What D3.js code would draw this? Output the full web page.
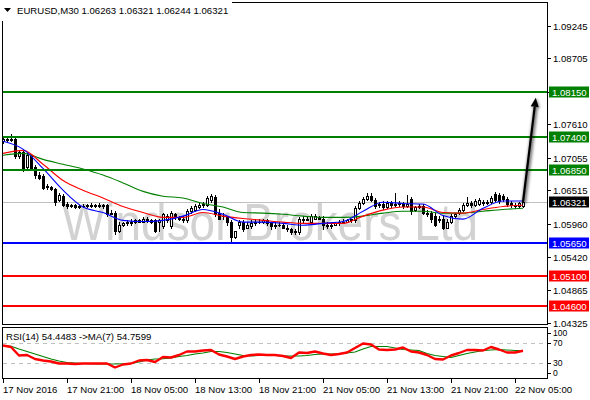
<!DOCTYPE html>
<html><head><meta charset="utf-8">
<script src="https://cdn.jsdelivr.net/npm/d3@7"></script>
<style>body{margin:0;background:#fff}svg{display:block}text{font-family:"Liberation Sans",Arial,sans-serif}</style>
</head><body><svg id="c" width="590" height="400"></svg>
<script>
// ---------- DATA ----------
const symbolTitle = "EURUSD,M30";
const lastOHLC = [1.06263, 1.06321, 1.06244, 1.06321];
const watermarkText = "Windsor Brokers Ltd";

const openP = [
1.0733,1.0737,1.0735,1.0737,1.0708,1.0715,1.0690,1.0710,1.0690,1.0677,
1.0675,1.0657,1.0657,1.0654,1.0635,1.0642,1.0629,1.0625,1.0627,1.0624,
1.0625,1.0625,1.0627,1.0625,1.0627,1.0625,1.0627,1.0614,1.0615,1.0585,
1.0595,1.0597,1.0599,1.0599,1.0602,1.0600,1.0604,1.0602,1.0602,1.0599,
1.0592,1.0602,1.0592,1.0612,1.0607,1.0604,1.0602,1.0617,1.0619,1.0624,
1.0627,1.0627,1.0635,1.0640,1.0615,1.0610,1.0607,1.0599,1.0575,1.0594,
1.0599,1.0590,1.0592,1.0597,1.0600,1.0599,1.0602,1.0597,1.0592,1.0595,
1.0594,1.0590,1.0587,1.0582,1.0582,1.0604,1.0604,1.0600,1.0605,1.0607,
1.0605,1.0595,1.0592,1.0595,1.0597,1.0599,1.0600,1.0602,1.0602,1.0622,
1.0630,1.0637,1.0642,1.0635,1.0627,1.0629,1.0624,1.0630,1.0627,1.0629,
1.0629,1.0625,1.0637,1.0619,1.0624,1.0625,1.0615,1.0614,1.0610,1.0602,
1.0605,1.0590,1.0599,1.0609,1.0614,1.0619,1.0627,1.0630,1.0627,1.0629,
1.0632,1.0630,1.0632,1.0645,1.0644,1.0642,1.0637,1.0630,1.0627,1.0625,
1.06263];
const highP = [
1.0740,1.0740,1.0745,1.0740,1.0718,1.0718,1.0713,1.0712,1.0693,1.0682,
1.0678,1.0662,1.0659,1.0655,1.0647,1.0645,1.0632,1.0629,1.0629,1.0627,
1.0629,1.0629,1.0630,1.0629,1.0630,1.0629,1.0629,1.0619,1.0617,1.0599,
1.0600,1.0602,1.0604,1.0605,1.0605,1.0607,1.0607,1.0605,1.0604,1.0605,
1.0614,1.0612,1.0617,1.0615,1.0610,1.0609,1.0620,1.0625,1.0629,1.0630,
1.0632,1.0642,1.0645,1.0644,1.0620,1.0614,1.0610,1.0602,1.0585,1.0602,
1.0602,1.0599,1.0602,1.0605,1.0604,1.0605,1.0605,1.0600,1.0599,1.0599,
1.0597,1.0594,1.0590,1.0587,1.0607,1.0609,1.0609,1.0612,1.0612,1.0610,
1.0609,1.0599,1.0599,1.0600,1.0602,1.0604,1.0605,1.0605,1.0625,1.0634,
1.0640,1.0647,1.0647,1.0639,1.0632,1.0634,1.0634,1.0634,1.0647,1.0634,
1.0632,1.0644,1.0640,1.0625,1.0629,1.0629,1.0619,1.0617,1.0614,1.0609,
1.0609,1.0604,1.0612,1.0615,1.0622,1.0630,1.0640,1.0634,1.0637,1.0639,
1.0635,1.0635,1.0642,1.0649,1.0647,1.0645,1.0640,1.0634,1.0630,1.0632,
1.06321];
const lowP = [
1.0730,1.0732,1.0733,1.0705,1.0705,1.0683,1.0685,1.0685,1.0673,1.0670,
1.0654,1.0654,1.0652,1.0627,1.0634,1.0625,1.0622,1.0624,1.0622,1.0622,
1.0624,1.0624,1.0624,1.0624,1.0624,1.0622,1.0610,1.0612,1.0579,1.0582,
1.0592,1.0594,1.0595,1.0597,1.0599,1.0599,1.0600,1.0597,1.0582,1.0584,
1.0589,1.0599,1.0589,1.0605,1.0602,1.0600,1.0600,1.0614,1.0617,1.0622,
1.0624,1.0625,1.0632,1.0610,1.0604,1.0605,1.0595,1.0567,1.0572,1.0590,
1.0585,1.0589,1.0590,1.0595,1.0597,1.0597,1.0595,1.0587,1.0590,1.0592,
1.0589,1.0585,1.0579,1.0580,1.0580,1.0600,1.0602,1.0599,1.0604,1.0604,
1.0587,1.0590,1.0590,1.0594,1.0595,1.0597,1.0599,1.0599,1.0600,1.0620,
1.0629,1.0635,1.0634,1.0622,1.0624,1.0620,1.0622,1.0624,1.0625,1.0625,
1.0622,1.0624,1.0612,1.0617,1.0622,1.0612,1.0610,1.0600,1.0592,1.0600,
1.0587,1.0589,1.0597,1.0607,1.0612,1.0617,1.0625,1.0624,1.0625,1.0627,
1.0627,1.0629,1.0630,1.0634,1.0630,1.0634,1.0625,1.0624,1.0622,1.0624,
1.06244];
const closeP = [
1.0737,1.0735,1.0737,1.0708,1.0715,1.0687,1.0710,1.0688,1.0677,1.0673,
1.0655,1.0659,1.0654,1.0632,1.0644,1.0627,1.0625,1.0627,1.0624,1.0625,
1.0625,1.0627,1.0625,1.0627,1.0625,1.0627,1.0612,1.0615,1.0584,1.0595,
1.0597,1.0599,1.0597,1.0602,1.0600,1.0604,1.0602,1.0599,1.0584,1.0602,
1.0612,1.0609,1.0615,1.0607,1.0604,1.0605,1.0617,1.0622,1.0625,1.0627,
1.0629,1.0639,1.0642,1.0612,1.0605,1.0609,1.0599,1.0575,1.0584,1.0599,
1.0587,1.0594,1.0597,1.0600,1.0599,1.0602,1.0597,1.0592,1.0595,1.0594,
1.0590,1.0587,1.0582,1.0585,1.0604,1.0605,1.0605,1.0609,1.0609,1.0605,
1.0594,1.0592,1.0595,1.0597,1.0599,1.0600,1.0602,1.0604,1.0622,1.0630,
1.0637,1.0642,1.0635,1.0625,1.0629,1.0624,1.0630,1.0627,1.0629,1.0630,
1.0625,1.0629,1.0617,1.0624,1.0625,1.0615,1.0612,1.0604,1.0594,1.0605,
1.0590,1.0600,1.0609,1.0612,1.0619,1.0627,1.0630,1.0627,1.0634,1.0635,
1.0630,1.0632,1.0639,1.0635,1.0634,1.0637,1.0629,1.0627,1.0625,1.0630,
1.06321];

// moving averages, read every 5 bars
const maBarIdx = [0,5,10,15,20,25,30,35,40,45,50,55,60,65,70,75,80,85,90,95,100,105,110,115,120,125,130];
const maFast = [1.0733,1.0720,1.0688,1.0652,1.0624,1.0615,1.0602,1.0600,1.0602,1.0609,1.0620,1.0612,1.0599,1.0599,1.0597,1.0594,1.0597,1.0600,1.0617,1.0632,1.0630,1.0629,1.0610,1.0604,1.0622,1.0634,1.0634];
const maMid  = [1.0713,1.0718,1.0695,1.0668,1.0652,1.0639,1.0625,1.0615,1.0607,1.0607,1.0615,1.0609,1.0605,1.0602,1.0599,1.0597,1.0597,1.0597,1.0609,1.0619,1.0624,1.0624,1.0615,1.0614,1.0620,1.0625,1.0627];
const maSlow = [1.0710,1.0713,1.0703,1.0695,1.0687,1.0677,1.0664,1.0650,1.0642,1.0639,1.0630,1.0624,1.0615,1.0614,1.0612,1.0609,1.0607,1.0607,1.0609,1.0614,1.0617,1.0617,1.0614,1.0614,1.0617,1.0620,1.0622];

// RSI(14) and its MA(7), read every 2 bars
const rsiVal = [65,62,45,46,38,35,33,29,29,28,29,29,29,29,21,27,29,35,36,32,42,41,46,53,53,55,56,47,43,38,43,46,47,46,46,44,40,51,50,53,49,46,48,51,60,69,67,57,56,57,61,53,51,46,38,37,45,50,56,56,55,62,57,51,51,54.4483];
const rsiMaVal = [65,63.5,58,53,48,43,38,34,31,30,29,28.5,28,28,28,28.5,29,32,36,38,38.5,40,43,45,48,50,53,53,51,48,45,44,45,46,45,44,44,44,45,47,48,48,48,50,52,58,63,63,63,60,57,56,55,49,45,43,41,45,49,52,55,56,57,56,55,54.7599];
const rsiTicks = [100,70,30,0];
const rsiLevels = [70,30];

const priceTicks = [1.09245,1.08705,1.08150,1.07610,1.07055,1.06515,1.05960,1.05420,1.04865,1.04325];
const levelValues = [1.08150,1.07400,1.06850,1.05650,1.05100,1.04600];
const levelKinds  = ["target","resistance","resistance","pivot","support","support"];

const timeLabels = ["17 Nov 2016","17 Nov 21:00","18 Nov 05:00","18 Nov 13:00","18 Nov 21:00","21 Nov 05:00","21 Nov 13:00","21 Nov 21:00","22 Nov 05:00"];
const timeLabelIdx = [0,16,32,48,64,80,96,112,128];

const arrowFrom = [130, 1.06321];
const arrowTo = [133.2, 1.0805];

// ---------- DRAW ----------
const svg = d3.select("#c");
const L = 2, R = 547, T = 2, B = 325, RT = 327, RB = 378;
const nBars = closeP.length;
const x = d3.scaleLinear().domain([0, nBars - 1]).range([3, 523]);
const y = d3.scaleLinear().domain([1.04286, 1.09638]).range([B, T]);
const yr = d3.scaleLinear().domain([0, 100]).range([RB, RT + 1]);
const kindColor = {target:"#008000", resistance:"#008000", pivot:"#0000ff", support:"#ff0000"};

svg.append("rect").attr("width",590).attr("height",400).attr("fill","#fff");

const defs = svg.append("defs");
defs.append("clipPath").attr("id","mainclip").append("rect").attr("x",L).attr("y",T).attr("width",R-L).attr("height",B-T);
defs.append("filter").attr("id","blur").attr("x","-50%").attr("y","-50%").attr("width","200%").attr("height","200%")
  .append("feGaussianBlur").attr("stdDeviation",1.6);

const main = svg.append("g").attr("clip-path","url(#mainclip)");

// watermark
main.append("text").attr("x",62).attr("y",240).attr("font-size",52)
  .attr("fill","#d2d2d2").attr("textLength",416).attr("lengthAdjust","spacingAndGlyphs")
  .text(watermarkText);

// current price line
main.append("line").attr("x1",L).attr("x2",R).attr("y1",Math.round(y(lastOHLC[3]))+0.5).attr("y2",Math.round(y(lastOHLC[3]))+0.5)
  .attr("stroke","#c0c0c0").attr("stroke-width",1);

// candles
const idx = d3.range(nBars);
const cg = main.append("g");
idx.forEach(i => {
  const cx = Math.round(x(i));
  const o = openP[i], c = closeP[i], h = highP[i], l = lowP[i];
  cg.append("line").attr("x1",cx+0.5).attr("x2",cx+0.5)
    .attr("y1",Math.round(y(h))).attr("y2",Math.round(y(l))+1).attr("stroke","#000").attr("stroke-width",1);
  const top = Math.round(y(Math.max(o,c))), bot = Math.round(y(Math.min(o,c)));
  if (c > o) {
    cg.append("rect").attr("x",cx-0.5).attr("y",top+0.5).attr("width",2).attr("height",Math.max(1,bot-top))
      .attr("fill","#fff").attr("stroke","#000").attr("stroke-width",1);
  } else if (c < o) {
    cg.append("rect").attr("x",cx-1).attr("y",top).attr("width",3).attr("height",Math.max(1,bot-top+1)).attr("fill","#000");
  } else {
    cg.append("rect").attr("x",cx-1).attr("y",top).attr("width",3).attr("height",1).attr("fill","#000");
  }
});

// moving averages
const maLine = d3.line().x(d => x(d[0])).y(d => y(d[1])).curve(d3.curveMonotoneX);
[[maSlow,"#008000"],[maMid,"#ff0000"],[maFast,"#0000ff"]].forEach(([arr,col]) => {
  main.append("path").attr("d", maLine(maBarIdx.map((b,k)=>[b,arr[k]])))
    .attr("fill","none").attr("stroke",col).attr("stroke-width",1.1);
});

// level lines
levelValues.forEach((v,k) => {
  const yy = Math.round(y(v));
  main.append("rect").attr("x",L).attr("y",yy-1).attr("width",R-L).attr("height",2).attr("fill",kindColor[levelKinds[k]]);
});

// arrow
function arrow(g, col, w) {
  const x1 = x(arrowFrom[0]), y1 = y(arrowFrom[1]), x2 = x(arrowTo[0]), y2 = y(arrowTo[1]);
  const dx = x2-x1, dy = y2-y1, len = Math.hypot(dx,dy), ux = dx/len, uy = dy/len;
  const hl = 9, hw = 4;
  const bx = x2 - ux*hl, by = y2 - uy*hl;
  g.append("line").attr("x1",x1).attr("y1",y1).attr("x2",bx).attr("y2",by).attr("stroke",col).attr("stroke-width",w);
  g.append("path").attr("d",`M${x2},${y2}L${bx - uy*hw},${by + ux*hw}L${bx + uy*hw},${by - ux*hw}Z`).attr("fill",col);
}
const ag = svg.append("g");
arrow(ag.append("g").attr("filter","url(#blur)").attr("opacity",0.55).attr("transform","translate(1,1)"), "#000", 4);
arrow(ag.append("g"), "#000", 2.2);

// frames
svg.append("rect").attr("x",L+0.5).attr("y",T+0.5).attr("width",R-L).attr("height",B-T-1).attr("fill","none").attr("stroke","#000");
svg.append("rect").attr("x",L+0.5).attr("y",RT+0.5).attr("width",R-L).attr("height",RB-RT).attr("fill","none").attr("stroke","#000");

// title (with white background over the frame)
svg.append("rect").attr("x",0).attr("y",0).attr("width",232).attr("height",21).attr("fill","#fff");
svg.append("path").attr("d","M4,8L11,8L7.5,12Z").attr("fill","#000");
svg.append("text").attr("x",17).attr("y",14).attr("font-size",9.6).attr("fill","#000")
  .text(symbolTitle + "  " + lastOHLC.map(v=>v.toFixed(5)).join(" "));

// price axis
const ax = svg.append("g");
priceTicks.forEach(v => {
  const yy = Math.round(y(v))+0.5;
  ax.append("line").attr("x1",R).attr("x2",R+4).attr("y1",yy).attr("y2",yy).attr("stroke","#000");
  ax.append("text").attr("x",553).attr("y",yy+3.5).attr("font-size",9.6).text(v.toFixed(5));
});
// level labels
levelValues.forEach((v,k) => {
  const yy = y(v);
  ax.append("rect").attr("x",549).attr("y",Math.round(yy)-5.5).attr("width",40).attr("height",11).attr("fill",kindColor[levelKinds[k]]);
  ax.append("text").attr("x",552).attr("y",Math.round(yy)+3.5).attr("font-size",9.6).attr("fill","#fff").text(v.toFixed(5));
});
{
  const yy = y(lastOHLC[3]);
  ax.append("rect").attr("x",549).attr("y",Math.round(yy)-5.5).attr("width",40).attr("height",11).attr("fill","#000");
  ax.append("text").attr("x",552).attr("y",Math.round(yy)+3.5).attr("font-size",9.6).attr("fill","#fff").text(lastOHLC[3].toFixed(5));
}

// RSI panel
const rg = svg.append("g");
rsiLevels.forEach(v => {
  rg.append("line").attr("x1",L+1).attr("x2",R).attr("y1",Math.round(yr(v))+0.5).attr("y2",Math.round(yr(v))+0.5)
    .attr("stroke","#c0c0c0").attr("stroke-dasharray","4,4");
});
const rsiLine = d3.line().x((d,k)=>x(k*2)).y(d=>yr(d));
rg.append("path").attr("d",rsiLine(rsiMaVal)).attr("fill","none").attr("stroke","#008000").attr("stroke-width",1.1);
rg.append("path").attr("d",rsiLine(rsiVal)).attr("fill","none").attr("stroke","#ff0000").attr("stroke-width",2.4).attr("stroke-linejoin","round");
rg.append("text").attr("x",6).attr("y",340).attr("font-size",9.6)
  .text("RSI(14) " + rsiVal[rsiVal.length-1].toFixed(4) + "  ->MA(7) " + rsiMaVal[rsiMaVal.length-1].toFixed(4));
rsiTicks.forEach(v => {
  const ty = yr(v);
  // clamp the extreme labels inside the panel, keeping them clear of their neighbours
  const yy = v === 100 ? RT + 6 : v === 0 ? RB - 5 : ty;
  rg.append("line").attr("x1",R).attr("x2",R+4).attr("y1",Math.round(yy)+0.5).attr("y2",Math.round(yy)+0.5).attr("stroke","#000");
  rg.append("text").attr("x",553).attr("y",yy+3).attr("font-size",8.6).text(v);
});

// time axis
timeLabelIdx.forEach((b,k) => {
  const xx = Math.round(x(b))+0.5;
  svg.append("line").attr("x1",xx).attr("x2",xx).attr("y1",RB).attr("y2",RB+5).attr("stroke","#000");
  svg.append("text").attr("x",xx-0.5).attr("y",393).attr("font-size",9.6).text(timeLabels[k]);
});
</script></body></html>
